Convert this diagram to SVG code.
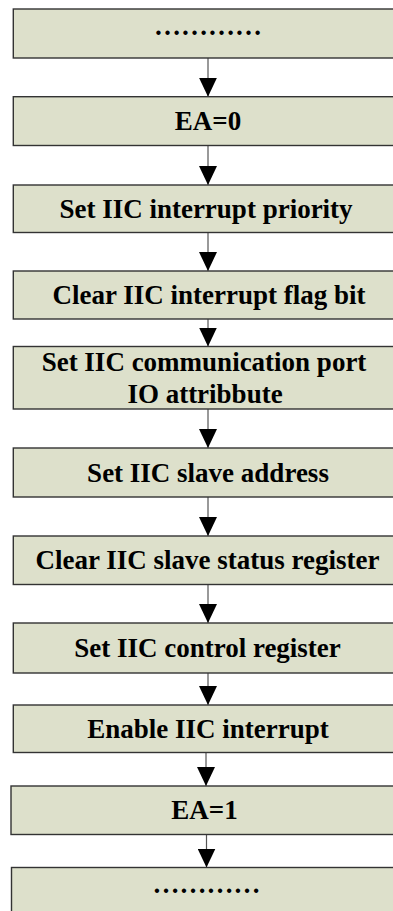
<svg xmlns="http://www.w3.org/2000/svg" width="393" height="911" viewBox="0 0 393 911">
<style>
.box{fill:#dde0cb;stroke:#333333;stroke-width:1.4}
.t{font-family:"Liberation Serif","Times New Roman",serif;font-weight:bold;font-size:27px;fill:#000;text-anchor:middle}
.c{stroke:#555555;stroke-width:1.2;fill:none;marker-end:url(#ah)}
</style>
<defs>
<marker id="ah" markerUnits="userSpaceOnUse" viewBox="0 0 19 18" markerWidth="19" markerHeight="18" refX="19" refY="9" orient="auto">
<path d="M0,0 L19,9 L0,18 Z" fill="#000"/>
</marker>
</defs>
<rect width="393" height="911" fill="#ffffff"/>
<g id="connectors">
<path class="c" d="M208,58 V96.7"/>
<path class="c" d="M208,145.5 V185"/>
<path class="c" d="M208,232.5 V271"/>
<path class="c" d="M208,319 V346.5"/>
<path class="c" d="M208,409 V448"/>
<path class="c" d="M208,497 V536"/>
<path class="c" d="M208,584.5 V623"/>
<path class="c" d="M208,673 V705"/>
<path class="c" d="M206,752.5 V786"/>
<path class="c" d="M206.5,834.5 V867.5"/>
</g>
<g id="n1"><rect class="box" x="13.3" y="9" width="400" height="49"/><text class="t" x="208" y="34.7">…………</text></g>
<g id="n2"><rect class="box" x="13.3" y="96.7" width="400" height="48.8"/><text class="t" x="208" y="130">EA=0</text></g>
<g id="n3"><rect class="box" x="13.3" y="185" width="400" height="47.5"/><text class="t" x="206" y="217.5">Set IIC interrupt priority</text></g>
<g id="n4"><rect class="box" x="13.3" y="271" width="400" height="48"/><text class="t" x="209" y="304">Clear IIC interrupt flag bit</text></g>
<g id="n5"><rect class="box" x="13.3" y="346.5" width="400" height="62.5"/><text class="t" x="204" y="370.5">Set IIC communication port</text><text class="t" x="205" y="402.5">IO attribbute</text></g>
<g id="n6"><rect class="box" x="13.3" y="448" width="400" height="49"/><text class="t" x="208" y="481.5">Set IIC slave address</text></g>
<g id="n7"><rect class="box" x="13.3" y="536" width="400" height="48.5"/><text class="t" x="207.5" y="569">Clear IIC slave status register</text></g>
<g id="n8"><rect class="box" x="13.3" y="623" width="400" height="50"/><text class="t" x="207.5" y="657">Set IIC control register</text></g>
<g id="n9"><rect class="box" x="13.3" y="705" width="400" height="47.5"/><text class="t" x="208" y="737.5">Enable IIC interrupt</text></g>
<g id="n10"><rect class="box" x="11" y="786" width="400" height="48.5"/><text class="t" x="204.5" y="819">EA=1</text></g>
<g id="n11"><rect class="box" x="11.5" y="867.5" width="400" height="60"/><text class="t" x="206.5" y="892.5">…………</text></g>
</svg>
